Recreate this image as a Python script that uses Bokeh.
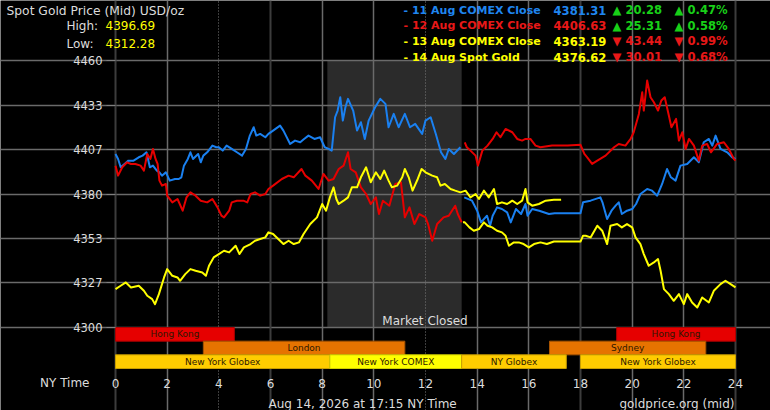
from bokeh.plotting import figure
from bokeh.models import Range1d, FixedTicker, Grid, Label, NumeralTickFormatter, ColumnDataSource
from bokeh.core.properties import value
from bokeh.embed import file_html
from bokeh.resources import INLINE

# ---------------- data ----------------
title_text = "Spot Gold Price (Mid) USD/oz"
high_value = "4396.69"
low_value = "4312.28"

legend_labels = ["- 11 Aug COMEX Close", "- 12 Aug COMEX Close", "- 13 Aug COMEX Close", "- 14 Aug Spot Gold"]
legend_closes = ["4381.31", "4406.63", "4363.19", "4376.62"]
legend_changes = ["20.28", "25.31", "43.44", "30.01"]
legend_pcts = ["0.47%", "0.58%", "0.99%", "0.68%"]
legend_up = [True, True, False, False]

y_ticks = [4300, 4326.67, 4353.33, 4380, 4406.67, 4433.33, 4460]
x_ticks = [0, 2, 4, 6, 8, 10, 12, 14, 16, 18, 20, 22, 24]

# blue: 12 Aug session (0-13.4) and 11 Aug evening (13.4-24)
blue_day_h = [0.0, 0.1, 0.2, 0.35, 0.5, 0.7, 0.9, 1.05, 1.2, 1.33, 1.45, 1.6, 1.7, 1.8, 1.95, 2.1, 2.3, 2.45, 2.55,
              2.65, 2.8, 2.9, 3.0, 3.2, 3.3, 3.4, 3.55, 3.75, 3.9, 4.0, 4.15, 4.3, 4.5, 4.7, 4.9, 5.05, 5.2, 5.35,
              5.45, 5.6, 5.8, 5.92, 6.1, 6.37, 6.5, 6.76, 6.95, 7.15, 7.3, 7.47, 7.7, 7.92, 8.1, 8.25, 8.37, 8.5,
              8.6, 8.7, 8.8, 8.9, 9.0, 9.2, 9.35, 9.5, 9.65, 9.8, 10.05, 10.25, 10.45, 10.57, 10.77, 10.96, 11.2,
              11.4, 11.6, 11.87, 12.0, 12.2, 12.4, 12.6, 12.77, 12.9, 13.1, 13.35]
blue_day_v = [4404, 4401, 4396, 4398, 4400, 4400, 4402, 4403, 4405, 4396, 4397, 4394, 4393, 4391, 4393, 4388, 4389,
              4389, 4390, 4397, 4401, 4405, 4401, 4404, 4399, 4403, 4405, 4409, 4408, 4408, 4406, 4409, 4407, 4405,
              4403, 4407, 4415, 4420, 4415, 4416, 4414, 4416, 4418, 4421, 4418, 4410, 4412, 4411, 4413, 4415, 4413,
              4414, 4408, 4407, 4406, 4426, 4430, 4438, 4424, 4432, 4437, 4430, 4418, 4423, 4413, 4424, 4432, 4437,
              4434, 4420, 4428, 4420, 4428, 4420, 4422, 4416, 4424, 4426, 4416, 4405, 4401, 4407, 4404, 4408]

blue_eve_h = [13.5, 13.8, 14.0, 14.15, 14.38, 14.5, 14.6, 14.77, 14.96, 15.16, 15.3, 15.5, 15.7, 15.87, 15.95, 16.13,
              16.4, 16.78, 17.0, 17.5, 18.0, 18.1, 18.39, 18.77, 18.85, 19.03, 19.2, 19.36, 19.48, 19.6, 19.8, 20.0,
              20.15, 20.32, 20.58, 20.77, 20.97, 21.16, 21.35, 21.5, 21.68, 21.87, 22.13, 22.39, 22.58, 22.77, 22.97,
              23.1, 23.23, 23.42, 23.68, 23.87, 24.0]
blue_eve_v = [4378, 4376, 4370, 4363, 4367, 4361, 4367, 4372, 4371, 4369, 4363, 4371, 4368, 4374, 4367, 4371, 4370,
              4368, 4368.5, 4368.5, 4368.5, 4375, 4376, 4378, 4375, 4365, 4370, 4373, 4375, 4368, 4370, 4371, 4374,
              4380, 4383, 4382, 4379, 4386, 4395, 4390, 4388, 4397, 4398, 4402, 4399, 4411, 4413, 4409, 4415, 4407,
              4405, 4402, 4401]

# red: 13 Aug session (0-13.4) and 12 Aug evening (13.4-24)
red_day_h = [0.0, 0.1, 0.26, 0.45, 0.6, 0.77, 0.97, 1.1, 1.23, 1.35, 1.45, 1.55, 1.63, 1.7, 1.8, 1.95, 2.0, 2.2, 2.4,
             2.6, 2.75, 2.9, 3.1, 3.3, 3.55, 3.75, 3.95, 4.1, 4.2, 4.4, 4.5, 4.7, 4.95, 5.1, 5.23, 5.4, 5.6, 5.8,
             5.92, 6.1, 6.44, 6.7, 6.9, 7.2, 7.35, 7.6, 7.86, 8.05, 8.25, 8.44, 8.64, 8.83, 9.0, 9.1, 9.3, 9.5, 9.7,
             9.88, 10.08, 10.2, 10.35, 10.6, 10.83, 11.05, 11.2, 11.38, 11.57, 11.76, 12.0, 12.1, 12.26, 12.45,
             12.7, 12.9, 13.15, 13.25, 13.4]
red_day_v = [4397, 4391, 4396, 4399, 4398, 4398, 4397, 4394, 4404, 4401, 4407, 4401, 4398, 4388, 4385, 4386, 4379,
             4375, 4377, 4370, 4378, 4381, 4379, 4376, 4375, 4377, 4372, 4367, 4366, 4370, 4375, 4376, 4376, 4375,
             4380, 4381, 4379, 4380, 4383, 4385, 4389, 4391, 4390, 4395, 4391, 4388, 4383, 4392, 4388, 4389, 4395,
             4397, 4405, 4395, 4393, 4384, 4380, 4374, 4378, 4368, 4376, 4373, 4386, 4387, 4366, 4372, 4362, 4368,
             4366, 4362, 4352, 4362, 4366, 4367, 4373, 4368, 4363]

red_eve_h = [13.52, 13.6, 13.74, 13.94, 14.03, 14.2, 14.4, 14.6, 14.75, 14.9, 15.1, 15.36, 15.55, 15.74, 15.87, 16.06,
             16.26, 16.45, 16.9, 17.5, 18.0, 18.15, 18.26, 18.45, 18.65, 18.97, 19.3, 19.48, 19.74, 19.94, 20.06,
             20.26, 20.39, 20.45, 20.58, 20.71, 20.84, 21.0, 21.13, 21.26, 21.42, 21.52, 21.7, 21.81, 21.94, 22.07,
             22.2, 22.39, 22.58, 22.71, 22.9, 23.05, 23.29, 23.55, 23.74, 23.94, 24.0]
red_eve_v = [4411, 4408, 4406, 4403, 4397, 4406, 4409, 4413, 4417, 4414, 4419, 4417, 4413, 4412, 4413, 4413, 4409,
             4408, 4409, 4409, 4409.5, 4404, 4402, 4398, 4400, 4403, 4408, 4410, 4409, 4413, 4417, 4428, 4441, 4430,
             4448, 4438, 4435, 4430, 4436, 4438, 4427, 4420, 4425, 4412, 4417, 4407, 4413, 4409, 4400, 4409, 4410,
             4405, 4410, 4411, 4407, 4401, 4400]

# yellow: 14 Aug spot (0-17.25) and 13 Aug evening (13.4-24)
today_h = [0.0, 0.2, 0.4, 0.6, 0.9, 1.1, 1.23, 1.42, 1.53, 1.68, 1.88, 2.0, 2.2, 2.4, 2.5, 2.7, 2.9, 3.1, 3.36, 3.5,
           3.62, 3.8, 4.0, 4.2, 4.4, 4.65, 4.8, 4.97, 5.23, 5.4, 5.6, 5.8, 5.92, 6.1, 6.3, 6.5, 6.7, 6.9, 7.1, 7.28,
           7.54, 7.8, 8.0, 8.15, 8.3, 8.44, 8.55, 8.64, 8.83, 9.0, 9.15, 9.35, 9.5, 9.7, 9.88, 10.08, 10.25, 10.4,
           10.57, 10.7, 10.9, 11.1, 11.2, 11.35, 11.5, 11.7, 11.85, 12.0, 12.26, 12.45, 12.58, 12.75, 12.97, 13.15,
           13.35, 13.55, 13.74, 13.94, 14.07, 14.26, 14.45, 14.65, 14.77, 14.96, 15.16, 15.36, 15.55, 15.74, 15.87,
           15.95, 16.13, 16.39, 16.65, 16.97, 17.25]
today_v = [4323, 4325, 4327, 4324, 4325, 4322, 4319, 4317, 4314, 4320, 4330, 4335, 4331, 4330, 4328, 4332, 4335, 4334,
           4333, 4331, 4337, 4342, 4344, 4346, 4345, 4349, 4344, 4348, 4350, 4352, 4353, 4354, 4357, 4356, 4353, 4350,
           4352, 4350, 4351, 4356, 4362, 4366, 4374, 4370, 4378, 4384, 4377, 4374, 4376, 4378, 4384, 4384, 4390, 4396,
           4387, 4393, 4389, 4394, 4388, 4384, 4385, 4390, 4395, 4390, 4382, 4389, 4395, 4393, 4391, 4390, 4385, 4386,
           4383, 4382, 4381, 4382, 4378, 4380, 4377, 4382, 4378, 4383, 4374, 4375, 4374, 4376, 4374, 4376, 4383, 4375,
           4373, 4374, 4376, 4376.5, 4376.62]

yel_eve_h = [13.45, 13.52, 13.7, 13.87, 14.07, 14.26, 14.4, 14.58, 14.77, 14.96, 15.1, 15.23, 15.42, 15.61, 15.8, 16.0,
             16.2, 16.45, 16.7, 16.97, 17.5, 18.0, 18.1, 18.2, 18.39, 18.65, 18.84, 19.03, 19.16, 19.42, 19.6, 19.8,
             20.0, 20.13, 20.32, 20.45, 20.64, 20.84, 21.0, 21.1, 21.23, 21.42, 21.61, 21.81, 22.0, 22.13, 22.32,
             22.52, 22.71, 22.97, 23.16, 23.42, 23.61, 23.81, 24.0]
yel_eve_v = [4363, 4363, 4360, 4358, 4359, 4363, 4361, 4360, 4358, 4357, 4355, 4349, 4351, 4351, 4350, 4348, 4350,
             4351, 4350, 4351.5, 4351.5, 4351.5, 4355, 4355, 4354, 4361, 4358, 4350, 4361, 4362, 4360, 4362, 4360,
             4354, 4350, 4344, 4337, 4339, 4341, 4334, 4323, 4320, 4316, 4320, 4314, 4320, 4315, 4312, 4318, 4315,
             4322, 4326, 4328, 4326, 4324]

closed_start, closed_end = 8.2, 13.4

sess_names = ["Hong Kong", "Hong Kong", "London", "Sydney", "New York Globex", "New York COMEX", "NY Globex", "New York Globex"]
sess_start = [0.0, 19.4, 3.4, 16.8, 0.0, 8.3, 13.4, 18.0]
sess_end = [4.6, 24.0, 11.2, 22.85, 8.3, 13.4, 17.45, 24.0]
sess_row = [2, 2, 1, 1, 0, 0, 0, 0]
sess_colors = ["#e60000", "#e60000", "#e67300", "#e67300", "#ffcc00", "#ffff00", "#ffcc00", "#ffcc00"]
sess_edges = ["#b00000", "#b00000", "#a85400", "#a85400", "#c89e00", "#d0d000", "#c89e00", "#c89e00"]

# ---------------- layout ----------------
FONT = "DejaVu Sans"
W, H = 770, 410
# page geometry: hour 0 at x=115, hour 24 at x=735; 4460 at y=60, 4300 at y=327;
# session rows from y=327 to y=368.
PX_PER_H = (735 - 115) / 24.0
PX_PER_USD = (327 - 60) / 160.0
ROW_PX = (368 - 327) / 3.0
Y_BOTTOM = 4460 - (368 - 60) / PX_PER_USD


def px(page_x):
    return (page_x - 115) / PX_PER_H


def py(page_y):
    return 4460 - (page_y - 60) / PX_PER_USD


def ps(page_y):
    return (368 - page_y) / ROW_PX


p = figure(width=W, height=H, output_backend="svg", toolbar_location=None,
           x_range=Range1d(px(0), px(W)), y_range=Range1d(py(H), py(0)),
           min_border=0, min_border_left=0, min_border_right=0, min_border_top=0, min_border_bottom=0)
p.extra_y_ranges = {"sess": Range1d(ps(H), ps(0))}
p.background_fill_color = "black"
p.border_fill_color = "black"
p.outline_line_color = None

# axes, drawn at the edges of the chart area
p.yaxis.fixed_location = 0
p.yaxis.ticker = FixedTicker(ticks=y_ticks)
p.yaxis.formatter = NumeralTickFormatter(format="0")
p.yaxis.axis_line_color = None
p.yaxis.major_tick_line_color = "#808080"
p.yaxis.major_tick_out = 9
p.yaxis.major_tick_in = 0
p.yaxis.minor_tick_line_color = None
p.yaxis.major_label_standoff = 4
p.yaxis.major_label_text_color = "#dcdcdc"
p.yaxis.major_label_text_font = FONT
p.yaxis.major_label_text_font_size = "11.5px"

p.xaxis.fixed_location = Y_BOTTOM
p.xaxis.ticker = FixedTicker(ticks=x_ticks)
p.xaxis.axis_line_color = None
p.xaxis.major_tick_line_color = None
p.xaxis.major_tick_out = 0
p.xaxis.major_tick_in = 0
p.xaxis.minor_tick_line_color = None
p.xaxis.major_label_standoff = 10
p.xaxis.major_label_text_color = "#dcdcdc"
p.xaxis.major_label_text_font = FONT
p.xaxis.major_label_text_font_size = "12px"

# grids, limited to the chart area
p.ygrid.ticker = FixedTicker(ticks=y_ticks)
p.ygrid.bounds = (0, 24)
p.ygrid.grid_line_color = "#6a6a6a"
p.ygrid.grid_line_width = 1.5
p.xgrid.ticker = FixedTicker(ticks=[2, 8, 10, 14, 16, 20, 22])
p.xgrid.bounds = (Y_BOTTOM, 4460)
p.xgrid.grid_line_color = "#6a6a6a"
p.xgrid.grid_line_width = 1.5
p.add_layout(Grid(dimension=0, ticker=FixedTicker(ticks=[0, 6, 18, 24]), bounds=(Y_BOTTOM, 4460),
                  grid_line_color="#3c3c3c", grid_line_width=2))
p.add_layout(Grid(dimension=0, ticker=FixedTicker(ticks=[4, 12]), bounds=(Y_BOTTOM, 4460),
                  grid_line_color="#7a7a7a", grid_line_width=1, grid_line_dash="1 2"))

# market closed shading (below the grid)
p.quad(left=[closed_start], right=[closed_end], bottom=[y_ticks[0]], top=[y_ticks[-1]],
       fill_color="#2b2b2b", line_color=None, level="image")

# session bars
sess_src = ColumnDataSource(dict(left=sess_start, right=sess_end, bottom=sess_row,
                                 top=[r + 1 for r in sess_row], fill=sess_colors, edge=sess_edges,
                                 name=sess_names, xc=[(a + b) / 2 for a, b in zip(sess_start, sess_end)],
                                 yc=[r + 0.5 for r in sess_row]))
p.quad(left="left", right="right", bottom="bottom", top="top", fill_color="fill", line_color="edge",
       line_width=1, source=sess_src, y_range_name="sess")
p.text(x="xc", y="yc", text="name", source=sess_src, y_range_name="sess", text_align="center",
       text_baseline="middle", text_font=value(FONT), text_font_size="9px", text_color="#2e1800")

# price lines
BLUE, RED, YEL = "#1a80f0", "#e60000", "#ffff00"
for hs, vs, c in [(blue_day_h, blue_day_v, BLUE), (blue_eve_h, blue_eve_v, BLUE),
                  (red_day_h, red_day_v, RED), (red_eve_h, red_eve_v, RED),
                  (yel_eve_h, yel_eve_v, YEL), (today_h, today_v, YEL)]:
    p.line(hs, vs, line_color=c, line_width=2, line_join="round")


def lab(x, y, text, color="#dcdcdc", size="12px", align="left", style="normal", baseline="middle"):
    p.add_layout(Label(x=x, y=y, text=text, text_color=color, text_font=FONT, text_font_size=size,
                       text_align=align, text_font_style=style, text_baseline=baseline))


lab(px(424.5), py(320), "Market Closed", align="center")

# header
lab(px(6), py(10), title_text, size="12.3px")
lab(px(66), py(25), "High:")
lab(px(105), py(25), high_value, color=YEL)
lab(px(66), py(43), "Low:")
lab(px(105), py(43), low_value, color=YEL)

legend_colors = ["#1f86f0", "#e81818", "#ffff00", "#ffff00"]
row_y = [9.5, 25.2, 40.9, 56.6]
for i in range(4):
    yy = py(row_y[i])
    lab(px(403), yy, legend_labels[i], color=legend_colors[i], size="11px", style="bold")
    lab(px(553), yy, legend_closes[i], color=legend_colors[i], size="11.6px", style="bold")
    arrow = "\u25B2" if legend_up[i] else "\u25BC"
    ccol = "#18d018" if legend_up[i] else "#e81818"
    lab(px(612), yy, arrow + " " + legend_changes[i], color=ccol, size="11.6px", style="bold")
    lab(px(674), yy, arrow + " " + legend_pcts[i], color=ccol, size="11.6px", style="bold")

# footer
lab(px(89), py(382.5), "NY Time", align="right")
lab(px(268), py(403), "Aug 14, 2026 at 17:15 NY Time", baseline="alphabetic")
lab(px(734), py(403), "goldprice.org (mid)", align="right", baseline="alphabetic")

open("out.html", "w").write(file_html(p, INLINE))
